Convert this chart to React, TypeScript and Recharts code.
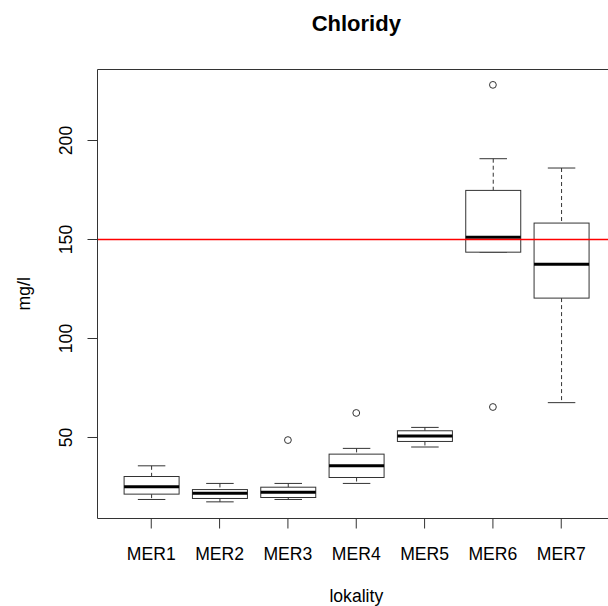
import { ComposedChart, Bar, Scatter, XAxis, YAxis, ReferenceLine } from "recharts";

const categories = ["MER1", "MER2", "MER3", "MER4", "MER5", "MER6", "MER7"];
const whiskerLow = [18.7, 17.5, 18.7, 26.8, 45.2, 143.6, 67.6];
const lowerQuartile = [21.4, 19.2, 19.7, 29.8, 48.0, 143.6, 120.4];
const median = [25.1, 21.9, 22.4, 35.7, 50.8, 151.2, 137.5];
const upperQuartile = [30.3, 23.7, 24.9, 41.6, 53.4, 174.8, 158.3];
const whiskerHigh = [35.7, 26.8, 26.8, 44.5, 55.1, 190.8, 186.1];
const outlierA: (number | null)[] = [null, null, 48.7, 62.4, null, 228.1, null];
const outlierB: (number | null)[] = [null, null, null, null, null, 65.4, null];
const yTicks = [50, 100, 150, 200];
const yDomain: [number, number] = [9.09, 235.86];
const limitValue = 150;

const data = categories.map((name, i) => ({
  name,
  lo: whiskerLow[i],
  q1: lowerQuartile[i],
  med: median[i],
  q3: upperQuartile[i],
  hi: whiskerHigh[i],
  outA: outlierA[i],
  outB: outlierB[i],
}));

const FONT = "'Liberation Sans', Arial, sans-serif";
const LINE = "#333";
const LIMIT_COLOR = "#FF0000";

// box + whiskers, positioned from the bar's own (lo..hi) pixel range
function BoxShape(props: any) {
  const { x, y, width, height, payload } = props;
  if (x == null || y == null) return <g />;
  const top = Math.min(y, y + height);
  const h = Math.abs(height);
  const { lo, hi, q1, q3, med } = payload;
  const py = (v: number) => top + ((hi - v) / (hi - lo)) * h;
  const cx = x + width / 2;
  const cap = width / 4;
  return (
    <g>
      <line x1={cx} x2={cx} y1={py(hi)} y2={py(q3)} stroke={LINE} strokeDasharray="4 3" />
      <line x1={cx} x2={cx} y1={py(q1)} y2={py(lo)} stroke={LINE} strokeDasharray="4 3" />
      <line x1={cx - cap} x2={cx + cap} y1={py(hi)} y2={py(hi)} stroke={LINE} />
      <line x1={cx - cap} x2={cx + cap} y1={py(lo)} y2={py(lo)} stroke={LINE} />
      <rect x={x} y={py(q3)} width={width} height={py(q1) - py(q3)} fill="#fff" stroke={LINE} />
      <line x1={x} x2={x + width} y1={py(med)} y2={py(med)} stroke="#000" strokeWidth={3} />
    </g>
  );
}

const outlierShape = (key: "outA" | "outB") => (p: any) => {
  if (p.payload?.[key] == null || p.cx == null || p.cy == null) return <g />;
  return <circle cx={p.cx} cy={p.cy} r={3.4} fill="none" stroke={LINE} />;
};

const XTick = (p: any) => (
  <text x={p.x} y={p.y + 29} textAnchor="middle" fontFamily={FONT} fontSize={17.6} fill="#000">
    {p.payload.value}
  </text>
);

const YTick = (p: any) => (
  <text
    transform={`translate(${p.x - 13.5},${p.y}) rotate(-90)`}
    textAnchor="middle"
    fontFamily={FONT}
    fontSize={17.6}
    fill="#000"
  >
    {p.payload.value}
  </text>
);

export default function App() {
  return (
    <div style={{ position: "fixed", left: 0, top: 0, width: 608, height: 606, overflow: "hidden", background: "#fff" }}>
      <ComposedChart width={640} height={606} data={data} margin={{ top: 69.5, right: 25, bottom: 47.5, left: 0 }}>
        <XAxis
          dataKey="name"
          height={40}
          padding={{ left: 19.6, right: 19.6 }}
          interval={0}
          tickSize={10}
          axisLine={{ stroke: LINE }}
          tickLine={{ stroke: LINE }}
          tick={<XTick />}
        />
        <YAxis
          type="number"
          domain={yDomain}
          ticks={yTicks}
          allowDataOverflow
          width={97.5}
          tickSize={10}
          axisLine={{ stroke: LINE }}
          tickLine={{ stroke: LINE }}
          tick={<YTick />}
        />
        <ReferenceLine y={yDomain[1]} stroke={LINE} />
        <Bar dataKey={(d: any) => [d.lo, d.hi]} barSize={55} shape={<BoxShape />} isAnimationActive={false} />
        <Scatter dataKey="outA" shape={outlierShape("outA")} isAnimationActive={false} />
        <Scatter dataKey="outB" shape={outlierShape("outB")} isAnimationActive={false} />
        <ReferenceLine y={limitValue} stroke={LIMIT_COLOR} strokeWidth={1.5} />
      </ComposedChart>
      <svg width={608} height={606} style={{ position: "absolute", left: 0, top: 0, pointerEvents: "none" }}>
        <text x={356.3} y={31} textAnchor="middle" fontFamily={FONT} fontWeight="bold" fontSize={22} fill="#000">
          Chloridy
        </text>
        <text transform="translate(30,293.8) rotate(-90)" textAnchor="middle" fontFamily={FONT} fontSize={17.6} fill="#000">
          mg/l
        </text>
        <text x={356.3} y={602} textAnchor="middle" fontFamily={FONT} fontSize={17.6} fill="#000">
          lokality
        </text>
      </svg>
    </div>
  );
}
